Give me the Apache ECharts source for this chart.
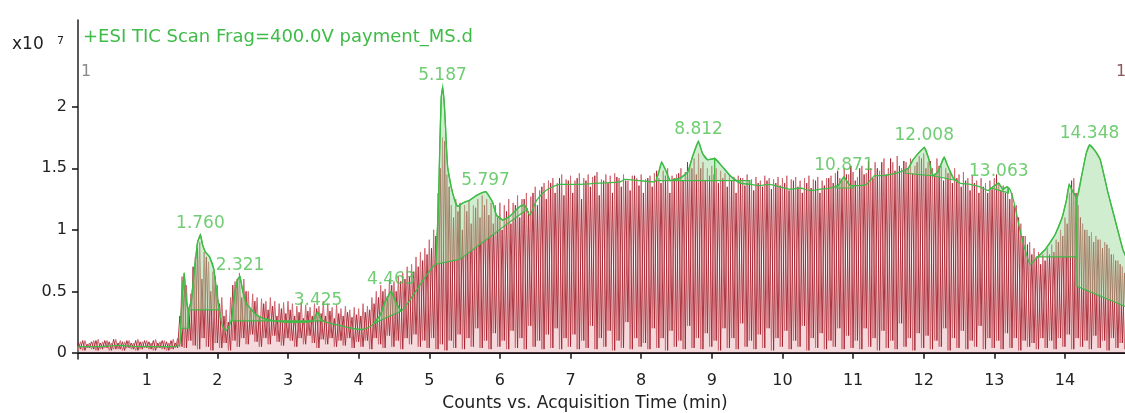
<!DOCTYPE html>
<html>
<head>
<meta charset="utf-8">
<title>TIC chromatogram</title>
<script src="https://cdn.jsdelivr.net/npm/echarts@6/dist/echarts.min.js"></script>
<style>
  html, body { margin: 0; padding: 0; background: #ffffff; }
  #chart { width: 1125px; height: 413px; }
</style>
</head>
<body>
<div id="chart"></div>
<script>
// Scan rate of the alternating-fragmentor TIC trace (scans per minute).
const SCANS_PER_MIN = 16;

// Upper scans of the trace, one row per minute (x10^7 counts).
const scanPeakA = [
  [0.06,0.09,0.10,0.08,0.10,0.11,0.09,0.10,0.08,0.11,0.10,0.09,0.10,0.08,0.11,0.09],
  [0.10,0.08,0.11,0.09,0.10,0.08,0.11,0.12,0.62,0.55,0.48,0.78,0.90,0.82,0.74,0.66],
  [0.55,0.45,0.35,0.45,0.58,0.65,0.60,0.50,0.48,0.45,0.44,0.42,0.45,0.42,0.40,0.41],
  [0.42,0.40,0.38,0.41,0.39,0.37,0.40,0.38,0.42,0.40,0.37,0.39,0.36,0.38,0.35,0.37],
  [0.36,0.40,0.38,0.45,0.50,0.55,0.52,0.60,0.58,0.62,0.65,0.70,0.72,0.78,0.82,0.85],
  [0.92,1.00,1.30,1.75,1.45,1.20,1.25,1.22,1.20,1.24,1.20,1.25,1.28,1.25,1.22,1.20],
  [1.22,1.20,1.25,1.22,1.28,1.25,1.30,1.27,1.35,1.32,1.38,1.40,1.42,1.38,1.45,1.41],
  [1.44,1.40,1.46,1.42,1.45,1.43,1.47,1.41,1.45,1.44,1.46,1.42,1.45,1.40,1.44,1.42],
  [1.45,1.41,1.44,1.46,1.42,1.48,1.50,1.44,1.45,1.50,1.47,1.52,1.58,1.62,1.55,1.50],
  [1.52,1.50,1.48,1.46,1.45,1.43,1.44,1.42,1.45,1.41,1.43,1.40,1.44,1.42,1.41,1.43],
  [1.42,1.44,1.41,1.43,1.40,1.42,1.44,1.41,1.43,1.40,1.42,1.44,1.46,1.42,1.50,1.45],
  [1.47,1.43,1.52,1.46,1.50,1.55,1.48,1.58,1.50,1.55,1.60,1.50,1.55,1.58,1.52,1.60],
  [1.62,1.55,1.50,1.58,1.52,1.50,1.48,1.50,1.45,1.47,1.42,1.44,1.40,1.42,1.38,1.40],
  [1.42,1.38,1.36,1.35,1.30,1.20,1.05,0.95,0.90,0.85,0.82,0.80,0.85,0.88,0.92,1.00],
  [1.10,1.30,1.42,1.20,1.05,1.00,0.98,0.95,0.92,0.90,0.85,0.80,0.75,0.70,0.65,0.60]
];

// Lower scans between the upper ones, one row per minute.
const scanLowA = [
  [0.03,0.02,0.04,0.03,0.02,0.03,0.04,0.02,0.03,0.03,0.02,0.04,0.03,0.02,0.03,0.04],
  [0.03,0.02,0.04,0.03,0.02,0.03,0.04,0.05,0.04,0.10,0.06,0.03,0.12,0.05,0.02,0.08],
  [0.04,0.08,0.02,0.10,0.05,0.12,0.07,0.15,0.09,0.05,0.12,0.07,0.14,0.09,0.06,0.12],
  [0.10,0.05,0.12,0.07,0.14,0.08,0.04,0.11,0.07,0.12,0.05,0.10,0.06,0.12,0.04,0.09],
  [0.05,0.10,0.03,0.12,0.07,0.04,0.14,0.05,0.10,0.03,0.12,0.07,0.15,0.05,0.10,0.04],
  [0.12,0.03,0.07,0.02,0.10,0.04,0.15,0.03,0.12,0.05,0.20,0.04,0.10,0.03,0.16,0.05],
  [0.10,0.03,0.18,0.04,0.12,0.03,0.22,0.05,0.10,0.03,0.15,0.04,0.20,0.03,0.12,0.05],
  [0.15,0.03,0.10,0.04,0.22,0.03,0.12,0.05,0.18,0.02,0.10,0.04,0.25,0.03,0.12,0.05],
  [0.08,0.03,0.20,0.04,0.12,0.02,0.18,0.05,0.10,0.03,0.22,0.04,0.12,0.03,0.16,0.05],
  [0.10,0.02,0.20,0.04,0.12,0.03,0.24,0.05,0.10,0.03,0.15,0.04,0.20,0.02,0.12,0.05],
  [0.18,0.03,0.10,0.05,0.22,0.02,0.12,0.04,0.16,0.03,0.10,0.05,0.20,0.03,0.14,0.04],
  [0.10,0.03,0.20,0.05,0.12,0.02,0.18,0.04,0.10,0.03,0.24,0.05,0.12,0.02,0.16,0.04],
  [0.14,0.03,0.10,0.05,0.20,0.02,0.12,0.04,0.18,0.03,0.10,0.05,0.22,0.03,0.12,0.04],
  [0.10,0.03,0.16,0.04,0.12,0.02,0.10,0.05,0.08,0.03,0.12,0.04,0.10,0.03,0.12,0.05],
  [0.15,0.03,0.12,0.05,0.10,0.03,0.14,0.04,0.10,0.02,0.12,0.04,0.08,0.03,0.10,0.04]
];

// Interleaved second scan set (darker trace), one row per minute.
const scanPeakB = [
  [0.08,0.10,0.07,0.09,0.10,0.08,0.10,0.09,0.11,0.08,0.09,0.10,0.08,0.10,0.09,0.10],
  [0.09,0.10,0.08,0.10,0.09,0.10,0.08,0.30,0.55,0.35,0.70,0.85,0.60,0.78,0.50,0.62],
  [0.40,0.30,0.25,0.55,0.60,0.45,0.50,0.35,0.42,0.30,0.40,0.35,0.38,0.30,0.36,0.32],
  [0.35,0.30,0.33,0.28,0.34,0.30,0.36,0.32,0.30,0.34,0.28,0.32,0.30,0.33,0.29,0.31],
  [0.30,0.33,0.35,0.40,0.45,0.50,0.46,0.55,0.50,0.58,0.60,0.62,0.66,0.70,0.75,0.80],
  [0.85,0.95,1.50,1.72,1.35,1.10,1.15,1.00,1.15,1.05,1.18,1.10,1.20,1.12,1.05,1.10],
  [1.00,1.15,1.05,1.20,1.10,1.25,1.15,1.30,1.20,1.35,1.25,1.38,1.30,1.42,1.28,1.40],
  [1.30,1.42,1.25,1.40,1.35,1.44,1.28,1.40,1.38,1.30,1.43,1.35,1.40,1.32,1.44,1.36],
  [1.30,1.42,1.35,1.48,1.38,1.44,1.30,1.42,1.46,1.40,1.55,1.50,1.45,1.50,1.40,1.44],
  [1.45,1.38,1.42,1.35,1.40,1.30,1.42,1.36,1.40,1.32,1.38,1.35,1.40,1.33,1.38,1.36],
  [1.38,1.32,1.40,1.35,1.30,1.38,1.34,1.40,1.30,1.36,1.42,1.38,1.48,1.40,1.45,1.52],
  [1.40,1.50,1.45,1.56,1.42,1.50,1.55,1.45,1.58,1.48,1.52,1.56,1.50,1.46,1.55,1.58],
  [1.50,1.56,1.45,1.52,1.40,1.46,1.38,1.42,1.35,1.40,1.32,1.38,1.30,1.35,1.30,1.33],
  [1.45,1.32,1.30,1.25,1.20,1.10,0.95,0.88,0.80,0.78,0.72,0.75,0.80,0.82,0.90,0.95],
  [1.05,1.40,1.30,1.10,1.00,0.95,0.90,0.92,0.85,0.88,0.80,0.75,0.72,0.65,0.60,0.55]
];

// Smoothed TIC used for peak integration: [time (min), counts x10^7].
const ticCurve = [
  [0.03,0.05],[0.30,0.05],[0.60,0.06],[0.90,0.05],[1.20,0.05],[1.46,0.06],
  [1.48,0.20],[1.50,0.45],[1.53,0.65],[1.56,0.42],[1.59,0.35],[1.63,0.42],[1.68,0.70],
  [1.72,0.90],[1.76,0.96],[1.79,0.88],[1.83,0.82],[1.89,0.78],[1.95,0.68],[2.00,0.45],
  [2.03,0.35],[2.07,0.22],[2.12,0.18],[2.17,0.22],[2.21,0.30],[2.25,0.50],[2.29,0.60],
  [2.32,0.62],[2.36,0.50],[2.41,0.40],[2.47,0.36],[2.55,0.31],[2.65,0.28],[2.80,0.26],
  [3.00,0.25],[3.20,0.25],[3.35,0.26],[3.42,0.33],[3.47,0.27],[3.60,0.24],[3.75,0.22],
  [3.90,0.20],[4.05,0.19],[4.18,0.22],[4.30,0.30],[4.38,0.42],[4.46,0.50],[4.52,0.42],
  [4.60,0.34],[4.75,0.45],[4.90,0.58],[5.05,0.70],[5.09,0.72],[5.13,1.20],[5.15,1.70],
  [5.17,2.08],[5.19,2.16],[5.21,2.05],[5.23,1.84],[5.24,1.71],[5.26,1.51],[5.31,1.35],
  [5.36,1.24],[5.40,1.19],[5.43,1.20],[5.48,1.22],[5.57,1.24],[5.67,1.28],[5.74,1.30],
  [5.80,1.31],[5.84,1.28],[5.90,1.22],[5.95,1.12],[6.04,1.08],[6.14,1.11],[6.28,1.19],
  [6.35,1.20],[6.42,1.12],[6.52,1.24],[6.61,1.30],[6.71,1.34],[6.85,1.37],[7.13,1.37],
  [7.41,1.38],[7.70,1.39],[7.77,1.41],[7.98,1.40],[8.19,1.39],[8.24,1.45],[8.29,1.55],
  [8.35,1.48],[8.41,1.40],[8.55,1.42],[8.66,1.47],[8.73,1.60],[8.81,1.72],[8.87,1.62],
  [8.94,1.57],[9.04,1.58],[9.14,1.52],[9.26,1.44],[9.40,1.38],[9.54,1.37],[9.68,1.36],
  [9.82,1.37],[9.96,1.35],[10.11,1.33],[10.25,1.34],[10.39,1.32],[10.53,1.33],[10.67,1.34],
  [10.79,1.36],[10.87,1.43],[10.96,1.36],[11.10,1.36],[11.19,1.37],[11.24,1.40],[11.31,1.44],
  [11.41,1.44],[11.52,1.45],[11.66,1.47],[11.78,1.50],[11.85,1.57],[11.92,1.62],[12.01,1.67],
  [12.07,1.58],[12.13,1.44],[12.20,1.47],[12.29,1.59],[12.34,1.52],[12.42,1.42],[12.51,1.38],
  [12.66,1.37],[12.80,1.35],[12.91,1.32],[12.98,1.35],[13.06,1.38],[13.12,1.33],[13.18,1.35],
  [13.22,1.33],[13.28,1.22],[13.37,0.98],[13.44,0.83],[13.51,0.72],[13.58,0.76],[13.72,0.84],
  [13.86,0.96],[13.96,1.10],[14.02,1.24],[14.06,1.37],[14.11,1.31],[14.17,1.26],[14.24,1.45],
  [14.30,1.62],[14.35,1.69],[14.43,1.64],[14.50,1.57],[14.61,1.30],[14.71,1.08],[14.82,0.84],
  [14.88,0.76]
];

// Integration baselines: [start time, start level, end time, end level].
const integrationBaselines = [
  [1.48,0.20,1.59,0.20],
  [1.59,0.35,2.02,0.35],
  [2.21,0.26,3.50,0.26],
  [4.22,0.24,4.60,0.34],
  [5.09,0.72,5.43,0.76],
  [5.43,0.76,6.39,1.17],
  [8.22,1.40,8.42,1.40],
  [8.45,1.40,9.04,1.40],
  [9.04,1.40,9.54,1.40],
  [10.75,1.34,11.00,1.34],
  [11.74,1.46,12.13,1.44],
  [12.13,1.44,12.48,1.40],
  [12.95,1.34,13.20,1.30],
  [13.60,0.78,14.17,0.78],
  [14.17,0.54,14.88,0.37]
];

// Labelled peaks: retention time (min) and apex height.
const peakTimes = [1.760, 2.321, 3.425, 4.463, 5.187, 5.797, 8.812, 10.871, 12.008, 13.063, 14.348];
const peakApex  = [0.96, 0.62, 0.33, 0.50, 2.16, 1.31, 1.72, 1.43, 1.67, 1.38, 1.69];

const xTickValues = [1,2,3,4,5,6,7,8,9,10,11,12,13,14];
const yTickValues = [0, 0.5, 1, 1.5, 2];

const titleText = '+ESI TIC Scan Frag=400.0V payment_MS.d';
const xAxisTitle = 'Counts vs. Acquisition Time (min)';

const FONT = '"DejaVu Sans", Verdana, sans-serif';
const GREEN = '#3fbb47';

// Expand per-minute scan rows into an alternating high/low polyline.
function zigzag(peaks, lows, offset) {
  const out = [];
  peaks.forEach((row, m) => row.forEach((p, k) => {
    const t = m + k / SCANS_PER_MIN + offset;
    out.push([t, p]);
    out.push([t + 0.5 / SCANS_PER_MIN, lows[m][k]]);
  }));
  return out;
}

function curveAt(t) {
  for (let i = 1; i < ticCurve.length; i++) {
    const a = ticCurve[i - 1], b = ticCurve[i];
    if (t <= b[0]) {
      const f = (t - a[0]) / (b[0] - a[0]);
      return a[1] + f * (b[1] - a[1]);
    }
  }
  return ticCurve[ticCurve.length - 1][1];
}

const chart = echarts.init(document.getElementById('chart'), null, { renderer: 'canvas' });

chart.setOption({
  animation: false,
  backgroundColor: '#ffffff',
  grid: { left: 78, top: 20, width: 1047, height: 339, containLabel: false },
  xAxis: {
    type: 'value',
    min: 0.027,
    max: 14.85,
    axisLine: { show: true, lineStyle: { color: '#111', width: 2 } },
    axisTick: { show: true, customValues: xTickValues, length: 6, lineStyle: { color: '#111', width: 1.5 } },
    axisLabel: { customValues: xTickValues, color: '#222', fontFamily: FONT, fontSize: 16, margin: 14 },
    splitLine: { show: false }
  },
  yAxis: {
    type: 'value',
    min: -0.05,
    max: 2.706,
    axisLine: { show: true, lineStyle: { color: '#222', width: 1.5 } },
    axisTick: { show: true, customValues: yTickValues, length: 6, lineStyle: { color: '#111', width: 1.5 } },
    axisLabel: { customValues: yTickValues, color: '#222', fontFamily: FONT, fontSize: 16, margin: 11 },
    splitLine: { show: false }
  },
  graphic: [
    { type: 'text', left: 83, top: 28, style: { text: titleText, fill: GREEN, font: '18px ' + FONT } },
    { type: 'text', left: 12, top: 36, style: { text: 'x10', fill: '#222', font: '17px ' + FONT } },
    { type: 'text', left: 57, top: 36, style: { text: '7', fill: '#222', font: '11px ' + FONT } },
    { type: 'text', left: 81, top: 64, style: { text: '1', fill: '#8a8a8a', font: '16px ' + FONT } },
    { type: 'text', left: 1116, top: 64, style: { text: '1', fill: '#8a5a5a', font: '16px ' + FONT } },
    { type: 'text', x: 585, y: 404, style: { text: xAxisTitle, fill: '#222', font: '17px ' + FONT, align: 'center', verticalAlign: 'middle' } }
  ],
  series: [
    {
      name: 'scan A',
      type: 'line',
      data: zigzag(scanPeakA, scanLowA, 0),
      showSymbol: false,
      lineStyle: { color: '#cf6a73', width: 1 },
      areaStyle: { color: 'rgba(224,150,155,0.5)', origin: 'auto' },
      z: 1
    },
    {
      name: 'scan B',
      type: 'line',
      data: zigzag(scanPeakB, scanLowA, 0.5 / SCANS_PER_MIN),
      showSymbol: false,
      lineStyle: { color: '#a3232f', width: 0.9 },
      z: 2
    },
    {
      name: 'integrated peaks',
      type: 'custom',
      coordinateSystem: 'cartesian2d',
      data: integrationBaselines,
      encode: { x: [0, 2], y: [1, 3] },
      clip: true,
      z: 3,
      renderItem(params, api) {
        const t1 = api.value(0), v1 = api.value(1), t2 = api.value(2), v2 = api.value(3);
        const pts = [api.coord([t1, curveAt(t1)])];
        ticCurve.forEach(p => { if (p[0] > t1 && p[0] < t2) pts.push(api.coord(p)); });
        pts.push(api.coord([t2, curveAt(t2)]));
        pts.push(api.coord([t2, v2]));
        pts.push(api.coord([t1, v1]));
        return {
          type: 'polygon',
          shape: { points: pts },
          style: { fill: 'rgba(150,215,150,0.45)', stroke: GREEN, lineWidth: 1.2 }
        };
      }
    },
    {
      name: 'TIC',
      type: 'line',
      data: ticCurve,
      showSymbol: false,
      smooth: 0.2,
      lineStyle: { color: GREEN, width: 1.3 },
      z: 4
    },
    {
      name: 'peak labels',
      type: 'scatter',
      data: peakTimes.map((t, i) => [t, peakApex[i]]),
      symbolSize: 0,
      z: 5,
      label: {
        show: true,
        position: 'top',
        distance: 3,
        color: '#4cc050',
        fontFamily: FONT,
        fontSize: 17,
        formatter: p => p.value[0].toFixed(3)
      }
    }
  ]
});
</script>
</body>
</html>
